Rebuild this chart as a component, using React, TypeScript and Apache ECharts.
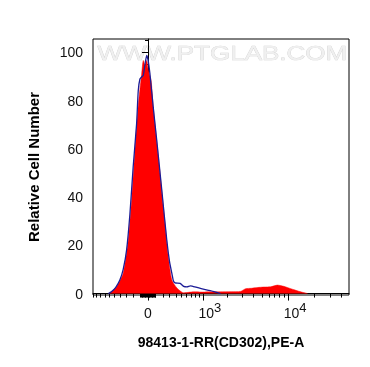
import React, { useEffect, useRef } from "react";
import * as echarts from "echarts";

// Fluorescence values (PE-A, raw units) and relative cell counts
const controlX = [-620, -560, -480, -405, -350, -297, -247, -200, -152, -130, -107, -80, -62, -40, -17, 0, 26, 70, 116, 185, 258, 300, 335, 361, 388, 476, 540, 608, 680, 720, 931, 1240, 1645];
const controlY = [0, 0.7, 2.5, 5.6, 10, 18, 33, 52.6, 70.5, 84, 89, 90, 90.5, 95, 98.8, 97, 91, 77, 63.6, 43, 22, 13, 8.4, 5.2, 4.4, 4.2, 3, 2.8, 3.2, 3.1, 2.1, 1.2, 0];

const sampleX = [-600, -463, -351, -272, -223, -175, -130, -84, -62, -40, -17, 4, 40, 70, 138, 208, 282, 335, 418, 538, 751, 1000, 1240, 1645, 2200, 2830, 3240, 3800, 4430, 5300, 6300, 7530, 8900, 10730, 13960, 16670];
const sampleY = [0, 2.8, 8.3, 22, 38.6, 59.4, 78, 91, 96.7, 94.7, 96.7, 92.6, 88.6, 77, 56.7, 35.8, 15, 5.6, 2.3, 0.3, 0.7, 0.6, 0.7, 0.7, 0.8, 0.9, 2, 2.2, 2.5, 2.7, 2.8, 3.5, 3, 2, 0.7, 0];

// Axis ticks (raw units)
const majorTicks = [0, 1000, 10000];
const majorLabels = ["0", "3", "4"];
const minorTicks = [
  -1000, -900, -800, -700, -600, -500, -400, -300, -200, -100,
  -90, -80, -70, -60, -50, -40, -30, -20, -10,
  10, 20, 30, 40, 50, 60, 70, 80, 90,
  100, 200, 300, 400, 500, 600, 700, 800, 900,
  2000, 3000, 4000, 5000, 6000, 7000, 8000, 9000,
  20000, 30000, 40000,
];
const yMajor = [0, 20, 40, 60, 80, 100];
const yMinor = [5, 10, 15, 25, 30, 35, 45, 50, 55, 65, 70, 75, 85, 90, 95, 105];

const T = (v: number) => Math.asinh(v / 500);
const X_MIN = -1.4474;
const X_MAX = 5.2895;
const FONT = "Liberation Sans";

export default function App() {
  const ref = useRef<HTMLDivElement>(null);
  useEffect(() => {
    if (!ref.current) return;
    const chart = echarts.init(ref.current, null, { renderer: "svg" });
    const majorT = majorTicks.map(T);
    const minorT = minorTicks.map(T);
    const fmt = (v: number) => {
      for (let i = 0; i < majorT.length; i++) {
        if (Math.abs(v - majorT[i]) < 1e-6) {
          return i === 0 ? "{base|0}" : "{pow|10}{sup|" + majorLabels[i] + "}";
        }
      }
      return "";
    };
    const rich = {
      base: { fontSize: 14, fontFamily: FONT, color: "#111", padding: [9, 0, 0, 0], lineHeight: 15 },
      pow: { fontSize: 14, fontFamily: FONT, color: "#111", padding: [9, 0, 0, 14], lineHeight: 15 },
      sup: { fontSize: 13, fontFamily: FONT, color: "#111", verticalAlign: "top", lineHeight: 13 },
    };
    const xBase = {
      type: "value",
      min: X_MIN,
      max: X_MAX,
      position: "bottom",
      splitLine: { show: false },
    };
    const yBase = {
      type: "value",
      min: -0.6,
      max: 105.6,
      position: "left",
      splitLine: { show: false },
    };
    chart.setOption({
      animation: false,
      grid: { left: 93, right: 21, top: 39, bottom: 72, show: true, borderColor: "#000", borderWidth: 1, backgroundColor: "transparent" },
      graphic: [
        {
          type: "text",
          left: 97,
          top: 43,
          z: 0,
          scaleX: 1.3,
          style: {
            text: "WWW.PTGLAB.COM",
            font: "20px " + FONT,
            fill: "#f0f0f0",
            stroke: "#d0d0d0",
            lineWidth: 0.6,
          },
        },
      ],
      xAxis: [
        {
          ...xBase,
          name: "98413-1-RR(CD302),PE-A",
          nameLocation: "middle",
          nameGap: 40,
          nameTextStyle: { fontSize: 14, fontWeight: "bold", fontFamily: FONT, color: "#000" },
          axisLine: { show: true, lineStyle: { color: "#000", width: 1 } },
          axisTick: { show: true, customValues: majorT, length: 7, lineStyle: { color: "#000", width: 1 } },
          axisLabel: { show: true, customValues: majorT, margin: 6, formatter: fmt, rich },
        },
        {
          ...xBase,
          axisLine: { show: false },
          axisTick: { show: true, customValues: minorT, length: 4, lineStyle: { color: "#000", width: 1 } },
          axisLabel: { show: false },
        },
      ],
      yAxis: [
        {
          ...yBase,
          name: "Relative Cell Number",
          nameLocation: "middle",
          nameGap: 52,
          nameTextStyle: { fontSize: 15, fontWeight: "bold", fontFamily: FONT, color: "#000" },
          axisLine: { show: true, lineStyle: { color: "#000", width: 1 } },
          axisTick: { show: true, customValues: yMajor, length: 6, lineStyle: { color: "#000" } },
          axisLabel: { show: true, customValues: yMajor, margin: 10, fontSize: 14, fontFamily: FONT, color: "#111" },
        },
        {
          ...yBase,
          axisLine: { show: false },
          axisTick: { show: true, customValues: yMinor.filter((v) => v <= 105.6), length: 3, lineStyle: { color: "#000" } },
          axisLabel: { show: false },
        },
      ],
      series: [
        {
          type: "line",
          name: "sample",
          xAxisIndex: 0,
          yAxisIndex: 0,
          data: sampleX.map((x, i) => [T(x), sampleY[i]]),
          showSymbol: false,
          smooth: 0.2,
          lineStyle: { color: "#ff0000", width: 0.5 },
          areaStyle: { color: "#ff0000", opacity: 1 },
          z: 3,
        },
        {
          type: "line",
          name: "control",
          xAxisIndex: 0,
          yAxisIndex: 0,
          data: controlX.map((x, i) => [T(x), controlY[i]]),
          showSymbol: false,
          smooth: 0.2,
          lineStyle: { color: "#1c1c96", width: 1.3 },
          z: 4,
        },
      ],
    });
    return () => chart.dispose();
  }, []);
  return <div ref={ref} style={{ position: "fixed", left: 0, top: 0, width: 370, height: 367 }} />;
}
